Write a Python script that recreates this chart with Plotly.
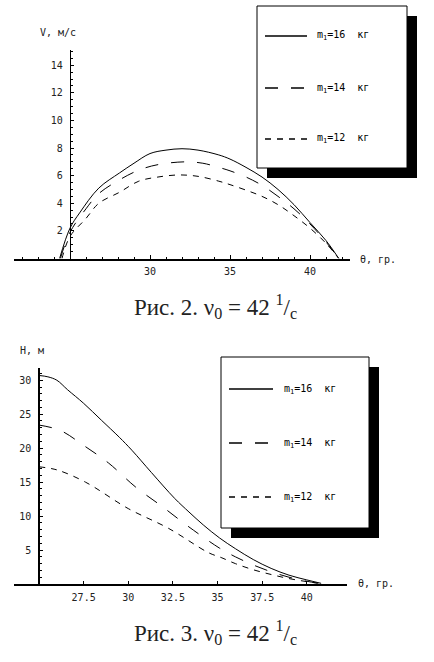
import plotly.graph_objects as go

# ---------------- data ----------------
# top chart : V, m/s versus angle
v_x16 = [24.35, 25, 25.6, 26.8, 28.1, 29, 30, 31, 32, 33, 34.3, 35, 36, 37, 38, 39, 40, 41, 41.8]
v_y16 = [0, 2.2, 3.3, 5.1, 6.2, 6.9, 7.6, 7.85, 7.95, 7.85, 7.5, 7.2, 6.6, 5.9, 5.0, 3.9, 2.6, 1.3, 0]
v_x14 = [24.4, 25, 26, 26.8, 28.1, 29.3, 30.5, 32.2, 33.3, 34.3, 35, 36, 37, 38, 39, 40, 41, 41.8]
v_y14 = [0, 1.9, 3.6, 4.7, 5.7, 6.4, 6.8, 7.0, 6.9, 6.6, 6.35, 5.9, 5.3, 4.5, 3.6, 2.5, 1.2, 0]
v_x12 = [24.5, 25, 26, 26.8, 28.1, 29.3, 30.5, 31.8, 33, 34.3, 35, 36, 37, 38, 39, 40, 41, 41.8]
v_y12 = [0, 1.6, 2.9, 4.0, 4.8, 5.6, 5.9, 6.05, 5.95, 5.6, 5.35, 4.95, 4.5, 3.9, 3.1, 2.2, 1.1, 0]

# bottom chart : H, m versus angle
h_x16 = [25, 25.5, 26, 26.6, 27.5, 28.5, 29.5, 30.2, 31.3, 32.6, 33.4, 34.2, 35.1, 36, 37, 38, 39, 40, 40.8]
h_y16 = [30.7, 30.5, 30.0, 28.6, 26.6, 24.1, 21.6, 19.7, 16.4, 12.6, 10.6, 8.7, 6.8, 5.2, 3.6, 2.3, 1.3, 0.6, 0.1]
h_x14 = [25, 26.2, 27.5, 28.9, 30.4, 31.9, 33.4, 35.1, 36, 37, 38, 39, 40, 40.8]
h_y14 = [23.4, 22.6, 20.4, 17.8, 14.3, 11.4, 8.4, 5.3, 4.0, 2.8, 1.8, 1.0, 0.4, 0.05]
h_x12 = [25, 26, 27.6, 30, 32.25, 34.5, 35.2, 36, 37, 38, 39, 40, 40.8]
h_y12 = [17.25, 16.8, 15.0, 11.1, 8.2, 4.6, 3.9, 3.0, 2.1, 1.4, 0.8, 0.35, 0.05]

names = ["m<sub>1</sub>=16&nbsp;&nbsp;кг", "m<sub>1</sub>=14&nbsp;&nbsp;кг", "m<sub>1</sub>=12&nbsp;&nbsp;кг"]
dashes = ["solid", "13px,13px", "6px,6px"]

v_ticks = [2, 4, 6, 8, 10, 12, 14]
v_xticks = [30, 35, 40]
h_ticks = [5, 10, 15, 20, 25, 30]
h_xticks = [27.5, 30, 32.5, 35, 37.5, 40]

# ---------------- layout helpers (pixels -> paper) ----------------
W, H = 434, 662
def px(x):
    return x / W
def py(y):
    return 1 - y / H

tick_font = dict(family="DejaVu Sans Mono", size=10, color="#222")

fig = go.Figure()

# top curves
for xs, ys, nm, d in zip([v_x16, v_x14, v_x12], [v_y16, v_y14, v_y12], names, dashes):
    fig.add_trace(go.Scatter(x=xs, y=ys, mode="lines", name=nm, xaxis="x", yaxis="y",
                             line=dict(color="black", width=1, dash=d, shape="spline")))
# bottom curves
for xs, ys, nm, d in zip([h_x16, h_x14, h_x12], [h_y16, h_y14, h_y12], names, dashes):
    fig.add_trace(go.Scatter(x=xs, y=ys, mode="lines", name=nm, xaxis="x2", yaxis="y2",
                             line=dict(color="black", width=1, dash=d, shape="spline")))

top_xr = [21.5, 42.5]
top_xd = [px(14), px(350)]
bot_xr = [23.6, 42.25]
bot_xd = [px(14), px(347)]

def axis_pos(val, rng, dom):
    return dom[0] + (val - rng[0]) / (rng[1] - rng[0]) * (dom[1] - dom[0])

fig.update_layout(
    width=W, height=H, margin=dict(l=0, r=0, t=0, b=0),
    paper_bgcolor="white", plot_bgcolor="white", showlegend=False,
    xaxis=dict(domain=top_xd, range=top_xr, anchor="y", showgrid=False, zeroline=False,
               showline=True, linecolor="black", linewidth=1.5,
               tickvals=v_xticks, ticks="inside", ticklen=4, tickcolor="black",
               minor=dict(dtick=1, tick0=0, ticks="inside", ticklen=2, tickcolor="black"),
               tickfont=tick_font, ticklabelstandoff=3),
    yaxis=dict(domain=[py(258.5), py(50)], range=[0, 15.1], anchor="free",
               position=axis_pos(25, top_xr, top_xd), showgrid=False, zeroline=False,
               showline=True, linecolor="black", linewidth=1.2,
               tickvals=v_ticks, ticks="inside", ticklen=3, tickcolor="black",
               minor=dict(dtick=0.5, tick0=0, ticks="inside", ticklen=2, tickcolor="black"),
               tickfont=tick_font, ticklabelstandoff=5),
    xaxis2=dict(domain=bot_xd, range=bot_xr, anchor="y2", showgrid=False, zeroline=False,
                showline=True, linecolor="black", linewidth=1.5,
                tickvals=h_xticks, ticks="inside", ticklen=3, tickcolor="black",
                tickfont=tick_font, ticklabelstandoff=3),
    yaxis2=dict(domain=[py(584), py(368)], range=[0, 31.8], anchor="free",
                position=axis_pos(25, bot_xr, bot_xd), showgrid=False, zeroline=False,
                showline=True, linecolor="black", linewidth=1.5,
                tickvals=h_ticks, ticks="inside", ticklen=3, tickcolor="black",
                minor=dict(dtick=1, tick0=0, ticks="inside", ticklen=2, tickcolor="black"),
                tickfont=tick_font, ticklabelstandoff=5),
)

# ---------------- hand drawn legends with drop shadow ----------------
def legend_box(left, top, right, bottom, item_ys, line_x0, line_x1, text_x):
    fig.add_shape(type="rect", xref="paper", yref="paper",
                  x0=px(left + 10), x1=px(right + 10), y0=py(bottom + 10), y1=py(top + 10),
                  fillcolor="black", line=dict(color="black", width=0))
    fig.add_shape(type="rect", xref="paper", yref="paper",
                  x0=px(left), x1=px(right), y0=py(bottom), y1=py(top),
                  fillcolor="white", line=dict(color="black", width=1))
    for yy, nm, d in zip(item_ys, names, dashes):
        fig.add_shape(type="line", xref="paper", yref="paper",
                      x0=px(line_x0), x1=px(line_x1), y0=py(yy), y1=py(yy),
                      line=dict(color="black", width=1.3, dash=d))
        fig.add_annotation(xref="paper", yref="paper", x=px(text_x), y=py(yy),
                           xanchor="left", yanchor="middle", showarrow=False, text=nm,
                           font=dict(family="DejaVu Sans Mono", size=10, color="black"))

legend_box(257, 6, 407, 168, [36, 88, 139], 265, 307, 315)
legend_box(221, 357, 369, 528, [389, 443, 497], 229, 273, 282)

# ---------------- axis titles and captions ----------------
def label(x, y, text, anchor="left", size=10, family="DejaVu Sans Mono"):
    fig.add_annotation(xref="paper", yref="paper", x=px(x), y=py(y), text=text,
                       xanchor=anchor, yanchor="middle", showarrow=False,
                       font=dict(family=family, size=size, color="#222"))

label(38, 33, "V, м/с")
label(358, 259, "θ, гр.")
label(18, 350, "H, м")
label(356, 583, "θ, гр.")

cap = " ν<sub>0</sub> = 42 <sup>1</sup>/<sub>c</sub>"
label(215, 306, "Рис. 2." + cap, anchor="center", size=23, family="Liberation Serif")
label(215, 632, "Рис. 3." + cap, anchor="center", size=23, family="Liberation Serif")

# the page body has an 8px default margin, drop it so pixels line up
fig.write_html("out.html", config={"displayModeBar": False},
               post_script="document.body.style.margin='0';")
